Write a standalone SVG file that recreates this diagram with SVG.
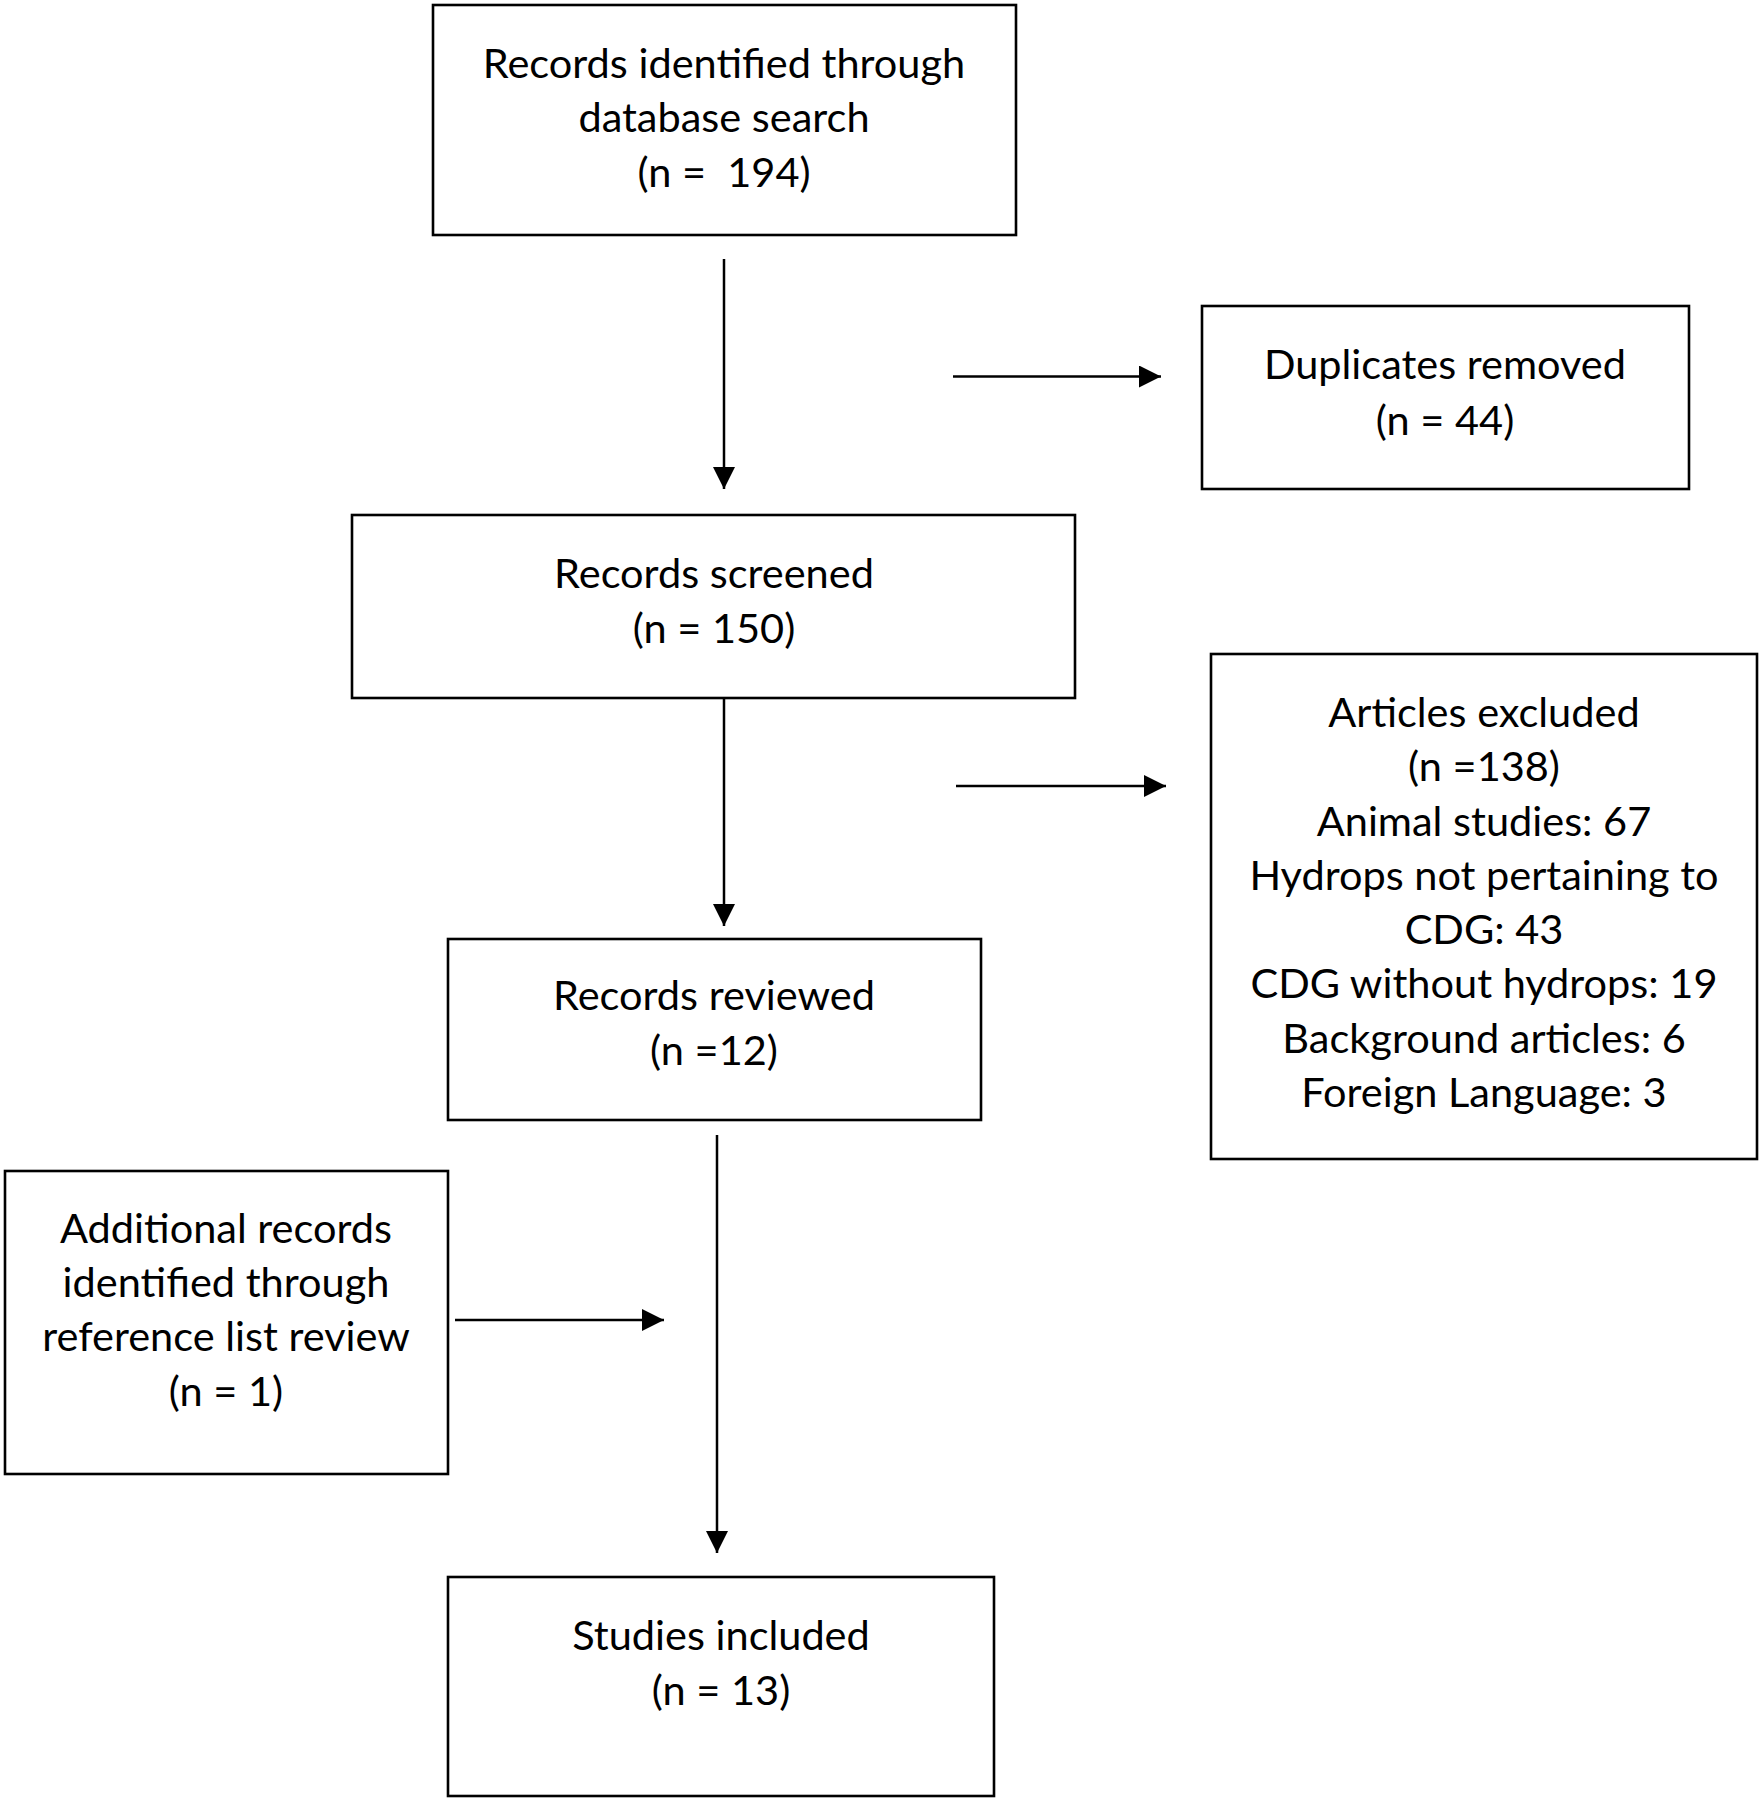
<svg xmlns="http://www.w3.org/2000/svg" width="1763" height="1800" viewBox="0 0 1763 1800">
<style>
.box{fill:#fff;stroke:#000;stroke-width:2.6}
.t{font-family:Lato,"Open Sans","Liberation Sans",sans-serif;font-size:41.5px;fill:#000;text-anchor:middle}
.c{stroke:#000;stroke-width:2.5;fill:none}
</style>
<defs>
<marker id="ah" viewBox="0 0 10 10" refX="10" refY="5" markerUnits="userSpaceOnUse" markerWidth="23" markerHeight="22" orient="auto">
<path d="M0,0 L10,5 L0,10 z" fill="#000"/>
</marker>
</defs>
<rect width="1763" height="1800" fill="#fff"/>
<g id="connectors">
<line class="c" x1="724" y1="259" x2="724" y2="489" marker-end="url(#ah)"/>
<line class="c" x1="953" y1="376.5" x2="1161" y2="376.5" marker-end="url(#ah)"/>
<line class="c" x1="724" y1="698" x2="724" y2="926" marker-end="url(#ah)"/>
<line class="c" x1="956" y1="786" x2="1166" y2="786" marker-end="url(#ah)"/>
<line class="c" x1="717" y1="1135" x2="717" y2="1553" marker-end="url(#ah)"/>
<line class="c" x1="455" y1="1320" x2="664" y2="1320" marker-end="url(#ah)"/>
</g>
<g id="n1">
<rect class="box" x="433" y="5" width="583" height="230"/>
<text class="t" x="724" y="78">Records identified through</text>
<text class="t" x="724" y="132">database search</text>
<text class="t" x="724" y="187" xml:space="preserve">(n =  194)</text>
</g>
<g id="n2">
<rect class="box" x="1202" y="306" width="487" height="183"/>
<text class="t" x="1445" y="379">Duplicates removed</text>
<text class="t" x="1445" y="435">(n = 44)</text>
</g>
<g id="n3">
<rect class="box" x="352" y="515" width="723" height="183"/>
<text class="t" x="714" y="588">Records screened</text>
<text class="t" x="714" y="643">(n = 150)</text>
</g>
<g id="n4">
<rect class="box" x="1211" y="654" width="546" height="505"/>
<text class="t" x="1484" y="727">Articles excluded</text>
<text class="t" x="1484" y="781">(n =138)</text>
<text class="t" x="1484" y="836">Animal studies: 67</text>
<text class="t" x="1484" y="890">Hydrops not pertaining to</text>
<text class="t" x="1484" y="944">CDG: 43</text>
<text class="t" x="1484" y="998">CDG without hydrops: 19</text>
<text class="t" x="1484" y="1053">Background articles: 6</text>
<text class="t" x="1484" y="1107">Foreign Language: 3</text>
</g>
<g id="n5">
<rect class="box" x="448" y="939" width="533" height="181"/>
<text class="t" x="714" y="1010">Records reviewed</text>
<text class="t" x="714" y="1065">(n =12)</text>
</g>
<g id="n6">
<rect class="box" x="5" y="1171" width="443" height="303"/>
<text class="t" x="226" y="1243">Additional records</text>
<text class="t" x="226" y="1297">identified through</text>
<text class="t" x="226" y="1351">reference list review</text>
<text class="t" x="226" y="1406">(n = 1)</text>
</g>
<g id="n7">
<rect class="box" x="448" y="1577" width="546" height="219"/>
<text class="t" x="721" y="1650">Studies included</text>
<text class="t" x="721" y="1705">(n = 13)</text>
</g>
</svg>
